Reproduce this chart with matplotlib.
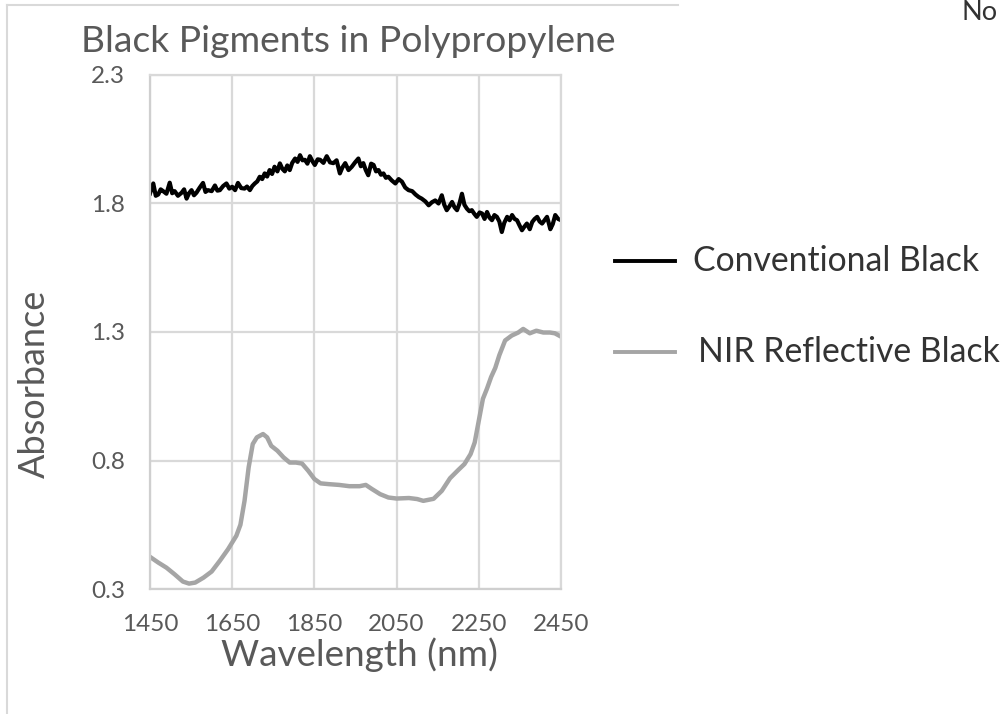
import matplotlib
matplotlib.use("Agg")
import matplotlib.pyplot as plt
from matplotlib.lines import Line2D

# ---------------- data ----------------
title = "Black Pigments in Polypropylene"
x_label = "Wavelength (nm)"
y_label = "Absorbance"
series_names = ["Conventional Black", "NIR Reflective Black"]
x_ticks = [1450, 1650, 1850, 2050, 2250, 2450]
y_ticks = [0.3, 0.8, 1.3, 1.8, 2.3]

conv_wl = [1450, 1458, 1464, 1470, 1476, 1482, 1490, 1498, 1504, 1510, 1518, 1527, 1533,
           1539, 1545, 1551, 1557, 1563, 1571, 1579, 1585, 1591, 1600, 1608, 1614, 1620,
           1628, 1636, 1643, 1650, 1657, 1664, 1672, 1680, 1686, 1693, 1699, 1705, 1711,
           1717, 1723, 1729, 1735, 1741, 1747, 1753, 1760, 1766, 1772, 1778, 1784, 1790,
           1796, 1803, 1809, 1815, 1821, 1827, 1833, 1839, 1845, 1851, 1858, 1864, 1872,
           1880, 1888, 1896, 1904, 1912, 1918, 1925, 1933, 1941, 1949, 1957, 1963, 1969,
           1975, 1981, 1988, 1994, 2000, 2006, 2012, 2018, 2024, 2030, 2038, 2047, 2055,
           2063, 2071, 2079, 2088, 2096, 2104, 2111, 2120, 2128, 2136, 2144, 2152, 2160,
           2166, 2172, 2179, 2185, 2191, 2197, 2203, 2209, 2215, 2221, 2227, 2233, 2239,
           2245, 2252, 2258, 2264, 2270, 2276, 2282, 2288, 2294, 2300, 2306, 2312, 2319,
           2325, 2331, 2337, 2343, 2349, 2355, 2361, 2367, 2374, 2380, 2386, 2392, 2398,
           2404, 2410, 2416, 2420, 2424, 2430, 2436, 2443, 2450]
conv_abs = [1.839, 1.878, 1.830, 1.835, 1.855, 1.848, 1.838, 1.881, 1.840, 1.848, 1.830,
            1.842, 1.855, 1.819, 1.840, 1.852, 1.832, 1.842, 1.862, 1.880, 1.845, 1.852,
            1.848, 1.870, 1.850, 1.852, 1.868, 1.878, 1.858, 1.865, 1.852, 1.880, 1.860,
            1.858, 1.866, 1.852, 1.868, 1.878, 1.886, 1.904, 1.895, 1.917, 1.905, 1.930,
            1.915, 1.943, 1.925, 1.956, 1.935, 1.925, 1.948, 1.930, 1.958, 1.975, 1.962,
            1.988, 1.968, 1.970, 1.955, 1.984, 1.965, 1.950, 1.972, 1.970, 1.958, 1.984,
            1.960, 1.957, 1.968, 1.917, 1.940, 1.957, 1.930, 1.943, 1.960, 1.975, 1.945,
            1.957, 1.930, 1.910, 1.955, 1.950, 1.925, 1.930, 1.912, 1.917, 1.900, 1.904,
            1.890, 1.878, 1.895, 1.885, 1.862, 1.852, 1.848, 1.835, 1.825, 1.819, 1.808,
            1.793, 1.805, 1.812, 1.800, 1.832, 1.795, 1.774, 1.790, 1.806, 1.785, 1.774,
            1.800, 1.838, 1.795, 1.780, 1.770, 1.774, 1.760, 1.748, 1.765, 1.761, 1.740,
            1.767, 1.745, 1.735, 1.755, 1.748, 1.730, 1.689, 1.725, 1.748, 1.735, 1.755,
            1.740, 1.735, 1.715, 1.696, 1.710, 1.722, 1.700, 1.728, 1.740, 1.748, 1.730,
            1.722, 1.735, 1.748, 1.725, 1.700, 1.720, 1.755, 1.740, 1.735]

nir_wl = [1450, 1470, 1490, 1510, 1530, 1545, 1560, 1580, 1600, 1620, 1640, 1660,
          1670, 1680, 1690, 1700, 1710, 1725, 1735, 1745, 1760, 1775, 1790, 1805,
          1820, 1835, 1850, 1865, 1885, 1910, 1935, 1960, 1975, 1990, 2010, 2030,
          2050, 2080, 2100, 2115, 2140, 2160, 2180, 2200, 2215, 2230, 2240, 2250,
          2260, 2270, 2280, 2290, 2300, 2314, 2330, 2346, 2358, 2374, 2390, 2407,
          2423, 2435, 2450]
nir_abs = [0.425, 0.403, 0.383, 0.357, 0.329, 0.321, 0.325, 0.344, 0.368, 0.410, 0.455, 0.507,
           0.550, 0.643, 0.773, 0.864, 0.890, 0.903, 0.890, 0.857, 0.838, 0.812, 0.792, 0.792,
           0.788, 0.760, 0.728, 0.711, 0.708, 0.705, 0.700, 0.700, 0.705, 0.689, 0.669, 0.656,
           0.652, 0.654, 0.650, 0.643, 0.651, 0.682, 0.731, 0.763, 0.786, 0.825, 0.870, 0.955,
           1.040, 1.080, 1.125, 1.160, 1.210, 1.267, 1.286, 1.298, 1.312, 1.295, 1.305, 1.298,
           1.298, 1.295, 1.282]

# ---------------- styling ----------------
W, H = 1003, 714
FONT = ["Lato", "DejaVu Sans"]
TXT = "#595959"
GRID = "#D9D9D9"
colors = ["#000000", "#A5A5A5"]

plt.rcParams["font.family"] = FONT

fig = plt.figure(figsize=(W / 100, H / 100), dpi=100)
fig.patch.set_facecolor("white")


def fx(px):
    return px / W


def fy(py):
    return 1 - py / H


ax = fig.add_axes([fx(150), fy(589), fx(561) - fx(150), fy(75) - fy(589)])
ax.plot(conv_wl, conv_abs, color=colors[0], lw=3.0, solid_joinstyle="round")
ax.plot(nir_wl, nir_abs, color=colors[1], lw=3.2, solid_joinstyle="round")

ax.set_xlim(x_ticks[0], x_ticks[-1])
ax.set_ylim(y_ticks[0], y_ticks[-1])
ax.set_xticks(x_ticks)
ax.set_yticks(y_ticks)
ax.set_xticklabels([str(v) for v in x_ticks])
ax.set_yticklabels([f"{v:.1f}" for v in y_ticks])
ax.tick_params(length=0, labelsize=17.5, labelcolor=TXT)
ax.tick_params(axis="x", pad=18)
ax.tick_params(axis="y", pad=18)
ax.grid(True, color=GRID, lw=1.6)
ax.set_axisbelow(True)
for s in ax.spines.values():
    s.set_color(GRID)
    s.set_linewidth(1.6)
ax.spines["left"].set_color("#CFCFCF")
ax.spines["bottom"].set_color("#CFCFCF")

# titles
fig.text(fx(348), fy(42), title, ha="center", va="center", fontsize=26.8, color=TXT)
fig.text(fx(359), fy(655), x_label, ha="center", va="center", fontsize=26.6, color=TXT)
fig.text(fx(34), fy(384), y_label, ha="center", va="center", fontsize=26, color=TXT,
         rotation=90)

# legend (drawn manually at right)
leg_rows = [261, 352]
leg_text_x = [693, 698]
for name, c, ry, tx in zip(series_names, colors, leg_rows, leg_text_x):
    fig.add_artist(Line2D([fx(615), fx(675)], [fy(ry), fy(ry)], color=c, lw=2.8,
                          transform=fig.transFigure))
    fig.text(fx(tx), fy(ry), name, ha="left", va="center", fontsize=24.3, color="#333333")

# outer chart frame fragments
fig.add_artist(Line2D([fx(7), fx(678)], [fy(5), fy(5)], color=GRID, lw=1.5,
                      transform=fig.transFigure))
fig.add_artist(Line2D([fx(7), fx(7)], [fy(5), fy(714)], color=GRID, lw=1.5,
                      transform=fig.transFigure))
fig.text(fx(961), fy(20), "No", ha="left", va="baseline", fontsize=19.5, color="#333333")

fig.savefig("out.png", dpi=100, facecolor="white")
